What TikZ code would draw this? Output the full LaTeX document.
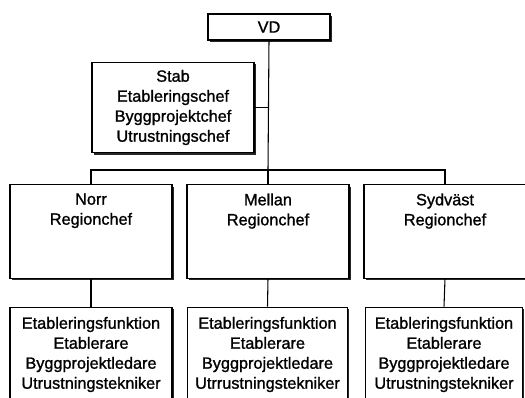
\documentclass[tikz,border=0pt]{standalone}
\usepackage{fontspec}
\setmainfont{Liberation Sans}[BoldFont=Liberation Sans, BoldFeatures={FakeBold=1.2}]
\usetikzlibrary{positioning,shadows}

\tikzset{every picture/.style={line width=0.8pt}}
\tikzset{
  orgbox/.style={draw, fill=white, inner sep=0pt, align=center,
    font=\fontsize{12.2}{15}\selectfont\bfseries,
    drop shadow={shadow xshift=1.3pt, shadow yshift=-1.3pt, fill=black!85, opacity=1}},
  boxtext/.style={inner sep=0pt, align=center, font=\fontsize{12.2}{15}\selectfont\bfseries},
}

\begin{document}
\begin{tikzpicture}[x=0.75pt,y=0.75pt,yscale=-1,xscale=1]
\clip (0,0) rectangle (525,397);
\fill[white] (0,0) rectangle (525,397);

%Shape: Rectangle VD
\node[orgbox, minimum width=91.5pt, minimum height=19.5pt] (vd) at (269,27) {VD};
%Shape: Rectangle Stab
\node[orgbox, minimum width=121.5pt, minimum height=68pt] (stab) at (173,107.5)
  {Stab\\Etableringschef\\Byggprojektchef\\Utrustningschef};

%Shape: Rectangle regions
\node[orgbox, minimum width=121.5pt, minimum height=70pt] (norr) at (91,231.5) {};
\node[orgbox, minimum width=121.5pt, minimum height=70pt] (mellan) at (268,231.5) {};
\node[orgbox, minimum width=121.5pt, minimum height=70pt] (syd) at (445,231.5) {};

%Shape: Rectangle functions
\node[orgbox, minimum width=121.5pt, minimum height=71pt] (norrf) at (91,354.5)
  {Etableringsfunktion\\Etablerare\\Byggprojektledare\\Utrustningstekniker};
\node[orgbox, minimum width=120pt, minimum height=71pt] (mellanf) at (267.5,354.5)
  {Etableringsfunktion\\Etablerare\\Byggprojektledare\\Utrrustningstekniker};
\node[orgbox, minimum width=118pt, minimum height=71pt] (sydf) at (444,354.5)
  {Etableringsfunktion\\Etablerare\\Byggprojektledare\\Utrustningstekniker};

% Text Node
\node[boxtext, anchor=north, yshift=-6.5pt] (norrtxt) at (norr.north) {Norr\\Regionchef};
% Text Node
\node[boxtext, anchor=north, yshift=-6.5pt] (mellantxt) at (mellan.north) {Mellan\\Regionchef};
% Text Node
\node[boxtext, anchor=north, yshift=-6.5pt] (sydtxt) at (syd.north) {Sydväst\\Regionchef};

%Straight Lines
\coordinate (bus) at (268,170);
\draw (vd.south) -- (bus);
\draw (stab.east) -- (stab.east -| bus);
\draw (norr.north) |- (bus) -| (syd.north);
\draw (bus) -- (mellan.north);
\draw (norr.south) -- (norrf.north);
\draw (mellan.south) -- (mellanf.north);
\draw (syd.south) -- (sydf.north);

\end{tikzpicture}
\end{document}
